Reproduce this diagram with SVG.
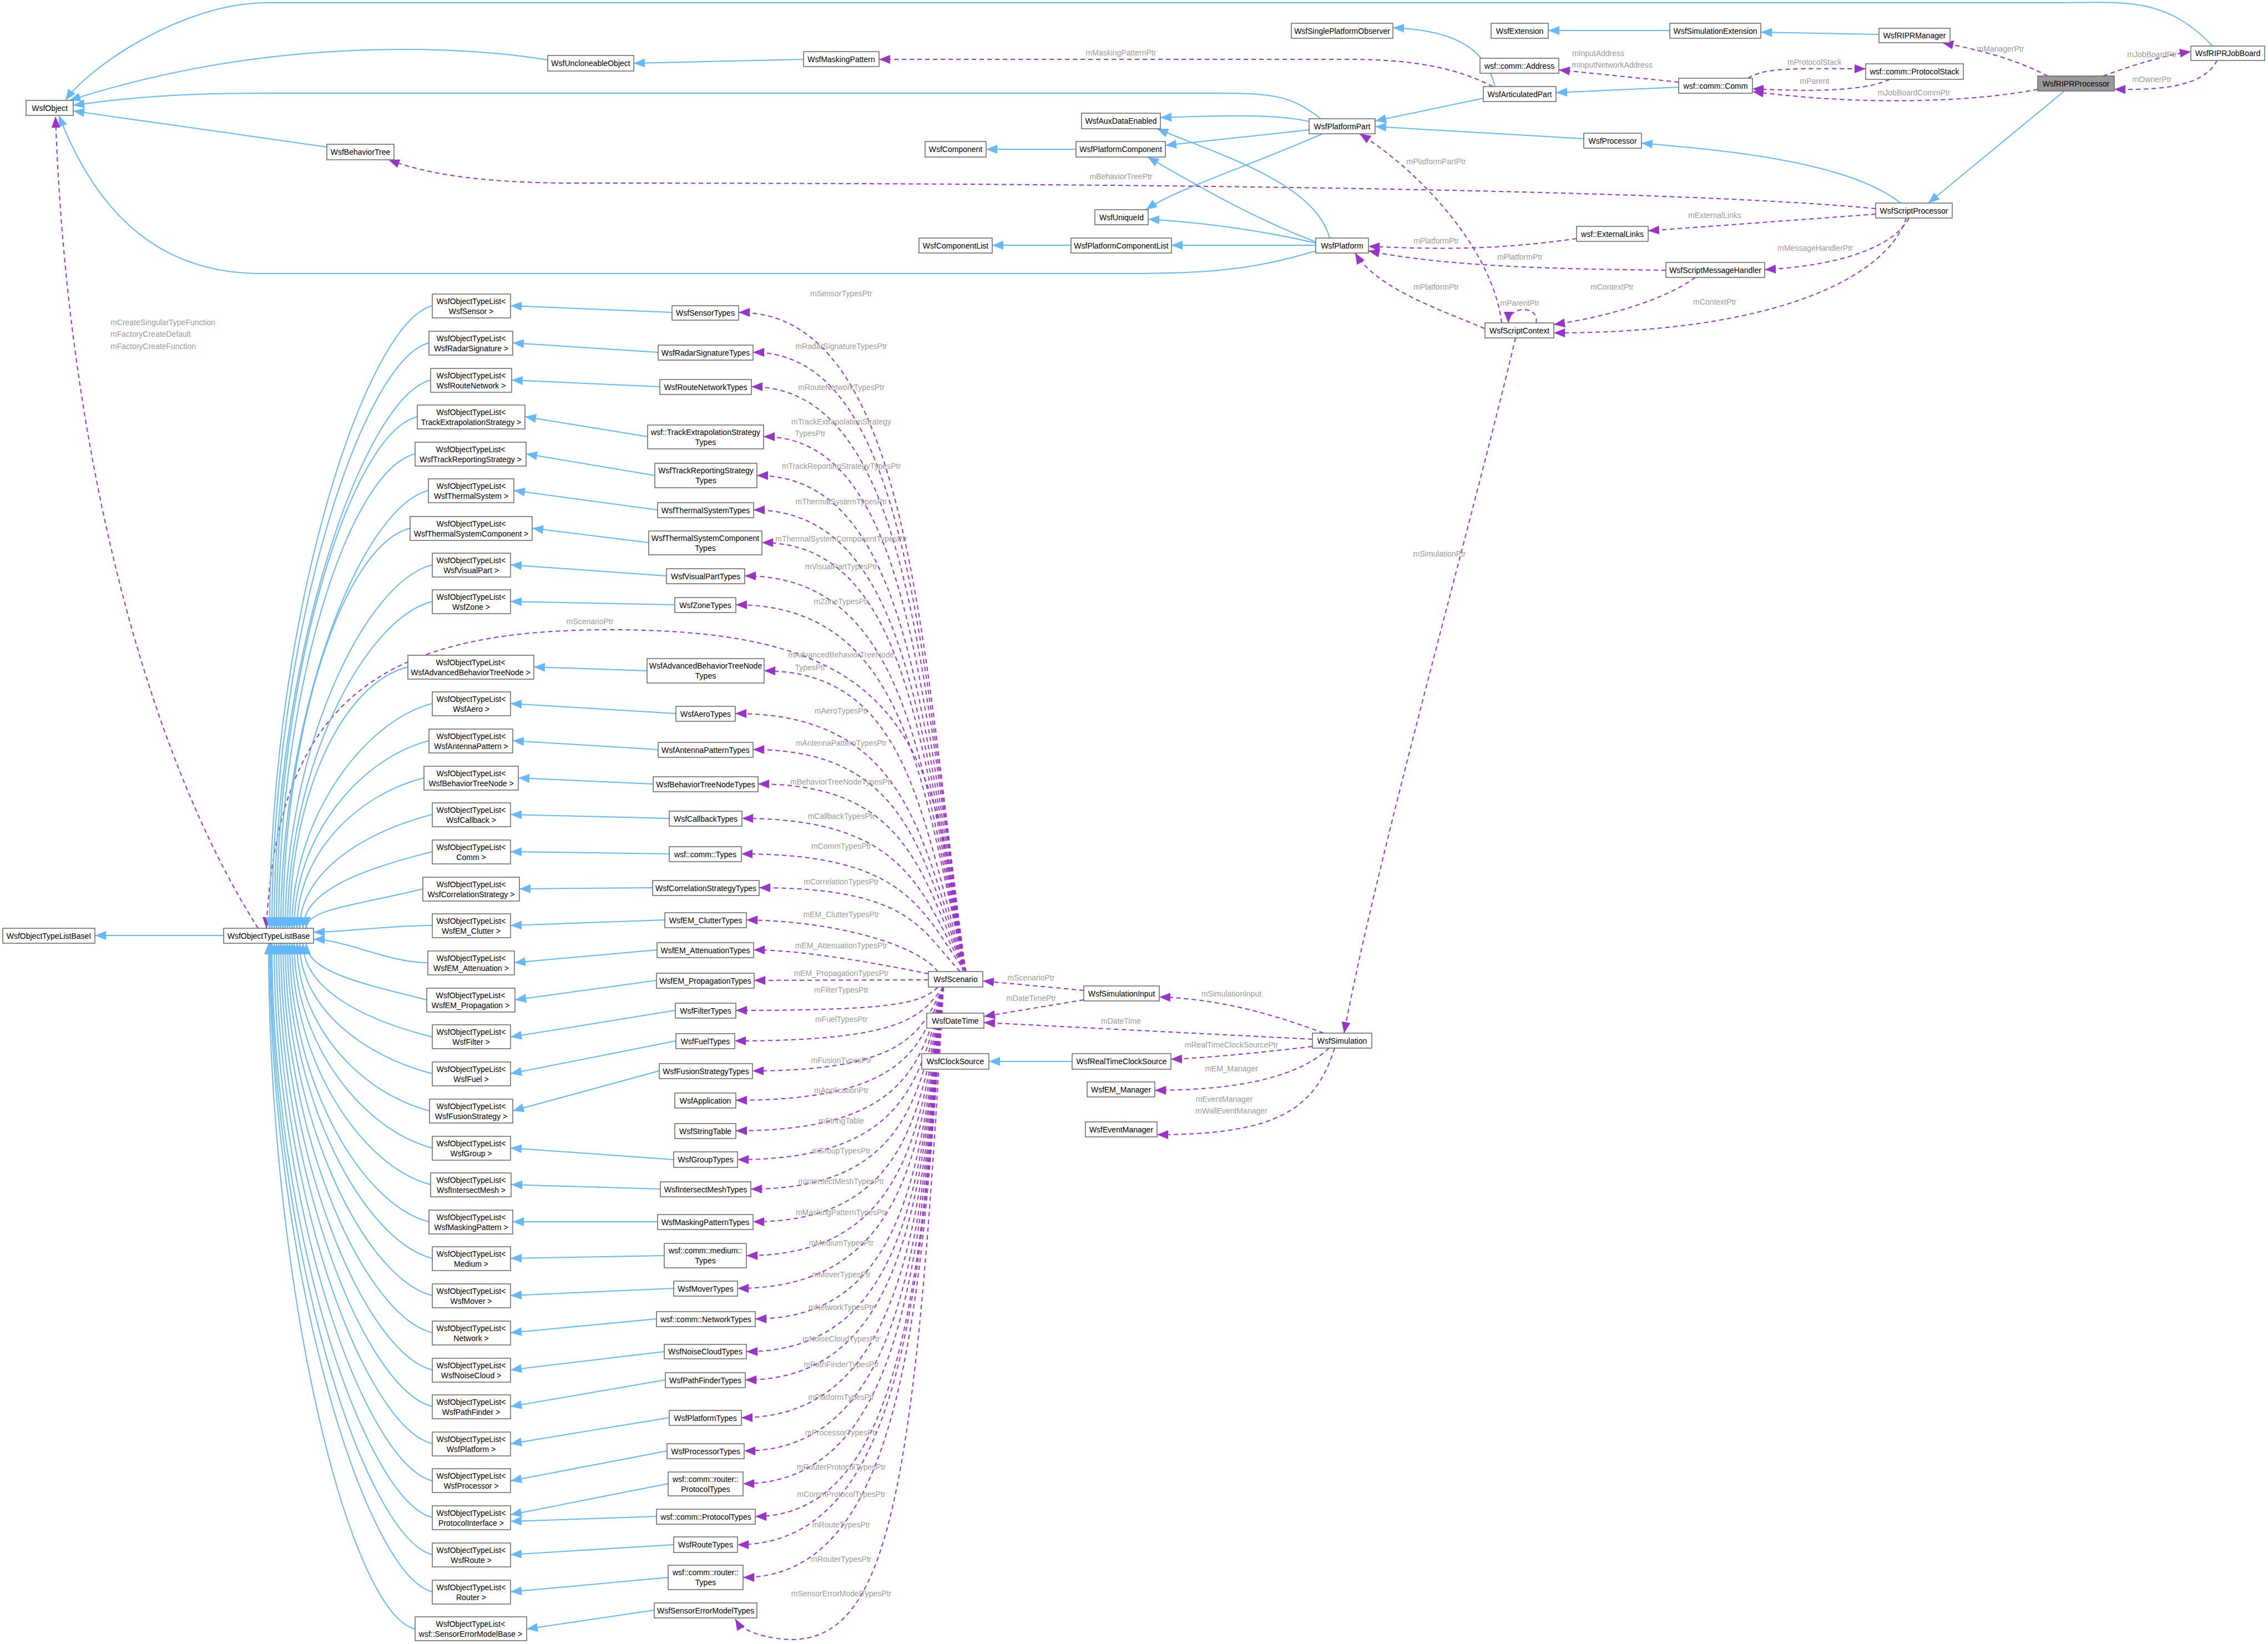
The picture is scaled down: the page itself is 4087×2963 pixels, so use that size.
<svg xmlns="http://www.w3.org/2000/svg" width="4087" height="2963" viewBox="0 0 4087 2963">
<style>
rect{fill:#fff;stroke:#666;stroke-width:1.5}
rect.focus{fill:#999}
text{font-family:"Liberation Sans",Arial,sans-serif;font-size:14px;fill:#000;text-anchor:middle}
text.l{fill:#9a9a9a}
path.b{fill:none;stroke:#63b8ff;stroke-width:2;marker-end:url(#bA)}
path.d{fill:none;stroke:#9a32cd;stroke-width:2;stroke-dasharray:8,6;marker-end:url(#pA)}
</style>
<defs>
<marker id="bA" viewBox="0 0 10 8" refX="10" refY="4" markerWidth="20" markerHeight="16" markerUnits="userSpaceOnUse" orient="auto"><path d="M0,0 L10,4 L0,8 z" fill="#63b8ff"/></marker>
<marker id="pA" viewBox="0 0 10 8" refX="10" refY="4" markerWidth="20" markerHeight="16" markerUnits="userSpaceOnUse" orient="auto"><path d="M0,0 L10,4 L0,8 z" fill="#9a32cd"/></marker>
</defs>
<rect x="0" y="0" width="4087" height="2963" style="fill:#fff;stroke:none"/>
<g id="connectors">
<!-- top area -->
<path class="b" d="M3987,83 C3900,-10 3820,5 3700,5 L480,5 C330,5 160,120 118,181"/>
<path class="b" d="M2380,214 C2330,175 2300,168 2200,168 L470,168 C300,168 200,180 132,190"/>
<path class="b" d="M2371,452 C2250,490 2150,493 2030,493 L470,493 C300,493 180,400 106,208"/>
<path class="b" d="M987,108 C850,85 500,60 125,181"/>
<path class="b" d="M1448,107 L1142,114"/>
<path class="b" d="M589,265 L132,200"/>
<path class="d" d="M2690,156 C2620,120 2540,107 2430,107 L1584,107"/>
<path class="b" d="M2694,156 C2680,100 2640,55 2510,50"/>
<path class="b" d="M2673,177 L2478,218"/>
<path class="b" d="M3025,157 L2804,167"/>
<path class="d" d="M3025,148 L2809,126"/>
<path class="d" d="M3150,141 C3180,120 3250,124 3362,124"/>
<path class="d" d="M3405,143 C3360,165 3260,165 3158,160"/>
<path class="d" d="M3672,161 C3550,185 3350,190 3158,165"/>
<path class="d" d="M3690,137 C3620,100 3540,85 3500,77"/>
<path class="d" d="M3790,137 C3850,115 3900,100 3948,93"/>
<path class="d" d="M3995,109 C3970,160 3880,162 3810,161"/>
<path class="b" d="M3720,164 L3475,366"/>
<path class="b" d="M3386,62 L3173,58"/>
<path class="b" d="M3009,55 L2790,55"/>
<path class="b" d="M2854,250 L2478,228"/>
<path class="b" d="M3425,366 C3330,290 3100,270 2958,258"/>
<path class="b" d="M2359,219 C2300,205 2200,208 2091,212"/>
<path class="b" d="M2359,234 L2100,262"/>
<path class="b" d="M2383,241 C2250,300 2120,340 2065,378"/>
<path class="b" d="M2396,429 C2370,330 2200,280 2085,232"/>
<path class="b" d="M2371,436 C2250,390 2150,330 2068,283"/>
<path class="b" d="M2371,438 C2250,410 2150,400 2069,395"/>
<path class="b" d="M2371,442 L2111,442"/>
<path class="b" d="M1930,442 L1788,442"/>
<path class="b" d="M1939,269 L1777,269"/>
<path class="d" d="M3380,376 C3000,340 2000,330 1040,330 C850,330 760,310 700,288"/>
<path class="d" d="M3380,386 L2970,416"/>
<path class="d" d="M3440,393 C3410,450 3300,480 3180,486"/>
<path class="d" d="M3435,393 C3400,500 3200,600 2800,600"/>
<path class="d" d="M2841,430 C2700,450 2600,450 2466,444"/>
<path class="d" d="M3002,487 C2800,485 2600,480 2466,452"/>
<path class="d" d="M3055,500 C3000,540 2900,570 2800,585"/>
<path class="d" d="M2675,592 C2600,560 2480,520 2442,456"/>
<path class="d" d="M2706,582 C2690,450 2560,310 2450,241"/>
<path class="d" d="M2768,582 C2775,550 2718,550 2718,582"/>
<path class="d" d="M2731,609 C2650,950 2480,1550 2422,1862"/>
<!-- simulation area -->
<path class="d" d="M1953,1785 L1771,1768"/>
<path class="d" d="M1953,1802 L1773,1832"/>
<path class="d" d="M2385,1862 C2300,1830 2200,1800 2089,1797"/>
<path class="d" d="M2365,1873 L1773,1843"/>
<path class="d" d="M2365,1886 C2250,1900 2150,1908 2110,1909"/>
<path class="d" d="M2395,1889 C2330,1950 2200,1965 2081,1965"/>
<path class="d" d="M2405,1889 C2370,2000 2300,2045 2085,2045"/>
<path class="b" d="M1932,1913 L1782,1913"/>
<!-- base -->
<path class="b" d="M403,1686 L171,1686"/>
<path class="d" d="M465,1673 C260,1350 120,800 100,210"/>
<path class="d" d="M1735,1751 C1690,1300 1600,1135 1100,1135 C700,1135 500,1250 480,1673"/>
<!-- left column to base -->
<path class="b" d="M779,551 C659,581 486,1112 486,1673"/>
<path class="b" d="M773,618 C653,648 490,1145 490,1673"/>
<path class="b" d="M776,685 C656,715 494,1179 494,1673"/>
<path class="b" d="M752,751 C632,781 498,1212 498,1673"/>
<path class="b" d="M748,818 C628,848 502,1246 502,1673"/>
<path class="b" d="M772,884 C652,914 506,1279 506,1673"/>
<path class="b" d="M739,952 C619,982 510,1313 510,1673"/>
<path class="b" d="M779,1018 C659,1048 514,1346 514,1673"/>
<path class="b" d="M779,1084 C659,1114 518,1379 518,1673"/>
<path class="b" d="M735,1202 C615,1232 522,1438 522,1673"/>
<path class="b" d="M779,1268 C659,1298 526,1471 526,1673"/>
<path class="b" d="M773,1335 C653,1365 530,1504 530,1673"/>
<path class="b" d="M764,1402 C644,1432 535,1538 535,1673"/>
<path class="b" d="M779,1468 C659,1498 540,1571 540,1673"/>
<path class="b" d="M779,1535 C659,1565 546,1604 546,1673"/>
<path class="b" d="M762,1602 C642,1632 552,1638 552,1673"/>
<path class="b" d="M779,1668 C700,1668 620,1680 565,1680"/>
<path class="b" d="M771,1735 C700,1735 620,1693 565,1693"/>
<path class="b" d="M769,1802 C649,1772 552,1751 552,1700"/>
<path class="b" d="M779,1869 C659,1839 546,1784 546,1700"/>
<path class="b" d="M779,1935 C659,1905 540,1818 540,1700"/>
<path class="b" d="M774,2002 C654,1972 535,1851 535,1700"/>
<path class="b" d="M779,2069 C659,2039 530,1885 530,1700"/>
<path class="b" d="M776,2135 C656,2105 526,1918 526,1700"/>
<path class="b" d="M773,2202 C653,2172 522,1951 522,1700"/>
<path class="b" d="M779,2268 C659,2238 518,1984 518,1700"/>
<path class="b" d="M779,2335 C659,2305 514,2018 514,1700"/>
<path class="b" d="M779,2402 C659,2372 510,2051 510,1700"/>
<path class="b" d="M779,2469 C659,2439 506,2085 506,1700"/>
<path class="b" d="M779,2535 C659,2505 502,2118 502,1700"/>
<path class="b" d="M779,2602 C659,2572 498,2151 498,1700"/>
<path class="b" d="M779,2669 C659,2639 494,2184 494,1700"/>
<path class="b" d="M779,2735 C659,2705 490,2218 490,1700"/>
<path class="b" d="M779,2802 C659,2772 488,2251 488,1700"/>
<path class="b" d="M779,2869 C659,2839 486,2285 486,1700"/>
<path class="b" d="M748,2936 C628,2906 484,2318 484,1700"/>
<!-- right column to left column -->
<path class="b" d="M1211,563 L920,551"/>
<path class="b" d="M1186,635 L924,618"/>
<path class="b" d="M1189,697 L922,685"/>
<path class="b" d="M1167,787 L946,751"/>
<path class="b" d="M1180,857 L948,818"/>
<path class="b" d="M1185,919 L926,884"/>
<path class="b" d="M1169,978 L959,952"/>
<path class="b" d="M1201,1038 L920,1018"/>
<path class="b" d="M1216,1090 L920,1084"/>
<path class="b" d="M1166,1209 L962,1202"/>
<path class="b" d="M1218,1286 L920,1268"/>
<path class="b" d="M1186,1351 L924,1335"/>
<path class="b" d="M1177,1413 L934,1402"/>
<path class="b" d="M1206,1475 L920,1468"/>
<path class="b" d="M1206,1539 L920,1535"/>
<path class="b" d="M1176,1600 L936,1602"/>
<path class="b" d="M1198,1658 L920,1668"/>
<path class="b" d="M1184,1712 L927,1735"/>
<path class="b" d="M1183,1767 L928,1802"/>
<path class="b" d="M1217,1821 L920,1869"/>
<path class="b" d="M1218,1876 L920,1935"/>
<path class="b" d="M1188,1930 L924,2002"/>
<path class="b" d="M1214,2090 L920,2069"/>
<path class="b" d="M1190,2143 L921,2135"/>
<path class="b" d="M1185,2202 L924,2202"/>
<path class="b" d="M1197,2263 L920,2268"/>
<path class="b" d="M1214,2322 L920,2335"/>
<path class="b" d="M1183,2377 L920,2402"/>
<path class="b" d="M1197,2436 L920,2469"/>
<path class="b" d="M1199,2487 L920,2535"/>
<path class="b" d="M1206,2555 L920,2602"/>
<path class="b" d="M1202,2615 L920,2669"/>
<path class="b" d="M1204,2674 L920,2730"/>
<path class="b" d="M1183,2733 L920,2742"/>
<path class="b" d="M1214,2784 L920,2802"/>
<path class="b" d="M1204,2843 L920,2869"/>
<path class="b" d="M1179,2902 L949,2936"/>
<!-- scenario to right column -->
<path class="d" d="M1740,1751 C1660,1157 1640,563 1331,563"/>
<path class="d" d="M1740,1751 C1660,1193 1640,635 1357,635"/>
<path class="d" d="M1740,1751 C1660,1224 1640,697 1354,697"/>
<path class="d" d="M1740,1751 C1660,1269 1640,787 1376,787"/>
<path class="d" d="M1740,1751 C1660,1304 1640,857 1364,857"/>
<path class="d" d="M1740,1751 C1660,1335 1640,919 1358,919"/>
<path class="d" d="M1740,1751 C1660,1365 1640,978 1373,978"/>
<path class="d" d="M1740,1751 C1660,1395 1640,1038 1342,1038"/>
<path class="d" d="M1740,1751 C1660,1421 1640,1090 1326,1090"/>
<path class="d" d="M1740,1751 C1660,1480 1640,1209 1377,1209"/>
<path class="d" d="M1740,1751 C1660,1519 1640,1286 1325,1286"/>
<path class="d" d="M1740,1751 C1660,1551 1640,1351 1357,1351"/>
<path class="d" d="M1740,1751 C1660,1582 1640,1413 1366,1413"/>
<path class="d" d="M1740,1751 C1660,1613 1640,1475 1337,1475"/>
<path class="d" d="M1740,1751 C1660,1645 1640,1539 1336,1539"/>
<path class="d" d="M1730,1751 C1660,1676 1640,1600 1368,1600"/>
<path class="d" d="M1690,1751 C1650,1700 1500,1660 1345,1658"/>
<path class="d" d="M1673,1755 C1600,1740 1450,1712 1358,1712"/>
<path class="d" d="M1673,1766 L1359,1767"/>
<path class="d" d="M1690,1779 C1660,1810 1600,1821 1326,1821"/>
<path class="d" d="M1700,1779 C1660,1828 1640,1876 1324,1876"/>
<path class="d" d="M1700,1779 C1660,1855 1640,1930 1356,1930"/>
<path class="d" d="M1700,1779 C1660,1881 1640,1983 1326,1983"/>
<path class="d" d="M1700,1779 C1660,1909 1640,2038 1326,2038"/>
<path class="d" d="M1700,1779 C1660,1934 1640,2090 1329,2090"/>
<path class="d" d="M1700,1779 C1660,1961 1640,2143 1353,2143"/>
<path class="d" d="M1700,1779 C1660,1991 1640,2202 1357,2202"/>
<path class="d" d="M1700,1779 C1660,2021 1640,2263 1345,2263"/>
<path class="d" d="M1700,1779 C1660,2051 1640,2322 1329,2322"/>
<path class="d" d="M1700,1779 C1660,2078 1640,2377 1361,2377"/>
<path class="d" d="M1700,1779 C1660,2107 1640,2436 1345,2436"/>
<path class="d" d="M1700,1779 C1660,2133 1640,2487 1343,2487"/>
<path class="d" d="M1700,1779 C1660,2167 1640,2555 1336,2555"/>
<path class="d" d="M1700,1779 C1660,2197 1640,2615 1341,2615"/>
<path class="d" d="M1700,1779 C1660,2227 1640,2674 1339,2674"/>
<path class="d" d="M1700,1779 C1660,2256 1640,2733 1361,2733"/>
<path class="d" d="M1700,1779 C1660,2281 1640,2784 1329,2784"/>
<path class="d" d="M1700,1779 C1660,2311 1640,2843 1339,2843"/>
<path class="d" d="M1700,1779 C1650,2700 1600,2960 1420,2955 C1360,2950 1335,2935 1325,2918"/>
</g>
<g id="labels">
<text class="l" x="2020" y="100">mMaskingPatternPtr</text>
<text class="l" x="2880" y="101">mInputAddress</text>
<text class="l" x="2905" y="122">mInputNetworkAddress</text>
<text class="l" x="3270" y="117">mProtocolStack</text>
<text class="l" x="3270" y="151">mParent</text>
<text class="l" x="3449" y="172">mJobBoardCommPtr</text>
<text class="l" x="3605" y="93">mManagerPtr</text>
<text class="l" x="3878" y="103">mJobBoardPtr</text>
<text class="l" x="3878" y="148">mOwnerPtr</text>
<text class="l" x="2588" y="296">mPlatformPartPtr</text>
<text class="l" x="2020" y="323">mBehaviorTreePtr</text>
<text class="l" x="3090" y="393">mExternalLinks</text>
<text class="l" x="2588" y="439">mPlatformPtr</text>
<text class="l" x="2739" y="468">mPlatformPtr</text>
<text class="l" x="3271" y="452">mMessageHandlerPtr</text>
<text class="l" x="2588" y="522">mPlatformPtr</text>
<text class="l" x="2905" y="522">mContextPtr</text>
<text class="l" x="2739" y="551">mParentPtr</text>
<text class="l" x="3090" y="549">mContextPtr</text>
<text class="l" x="2594" y="1003">mSimulationPtr</text>
<text class="l" x="1858" y="1767">mScenarioPtr</text>
<text class="l" x="1858" y="1804">mDateTimePtr</text>
<text class="l" x="2219" y="1796">mSimulationInput</text>
<text class="l" x="2020" y="1845">mDateTime</text>
<text class="l" x="2219" y="1888">mRealTimeClockSourcePtr</text>
<text class="l" x="2219" y="1931">mEM_Manager</text>
<text class="l" x="2206" y="1986">mEventManager</text>
<text class="l" x="2219" y="2007">mWallEventManager</text>
<text class="l" x="199" y="586" style="text-anchor:start">mCreateSingularTypeFunction</text>
<text class="l" x="199" y="607" style="text-anchor:start">mFactoryCreateDefault</text>
<text class="l" x="199" y="629" style="text-anchor:start">mFactoryCreateFunction</text>
<text class="l" x="1063" y="1125">mScenarioPtr</text>
<text class="l" x="1516" y="534">mSensorTypesPtr</text>
<text class="l" x="1516" y="629">mRadarSignatureTypesPtr</text>
<text class="l" x="1516" y="703">mRouteNetworkTypesPtr</text>
<text class="l" x="1516" y="765">mTrackExtrapolationStrategy</text>
<text class="l" x="1460" y="786">TypesPtr</text>
<text class="l" x="1516" y="845">mTrackReportingStrategyTypesPtr</text>
<text class="l" x="1516" y="909">mThermalSystemTypesPtr</text>
<text class="l" x="1516" y="976">mThermalSystemComponentTypesPtr</text>
<text class="l" x="1516" y="1026">mVisualPartTypesPtr</text>
<text class="l" x="1516" y="1089">mZoneTypesPtr</text>
<text class="l" x="1516" y="1185">mAdvancedBehaviorTreeNode</text>
<text class="l" x="1460" y="1208">TypesPtr</text>
<text class="l" x="1516" y="1286">mAeroTypesPtr</text>
<text class="l" x="1516" y="1344">mAntennaPatternTypesPtr</text>
<text class="l" x="1516" y="1414">mBehaviorTreeNodeTypesPtr</text>
<text class="l" x="1516" y="1476">mCallbackTypesPtr</text>
<text class="l" x="1516" y="1530">mCommTypesPtr</text>
<text class="l" x="1516" y="1594">mCorrelationTypesPtr</text>
<text class="l" x="1516" y="1653">mEM_ClutterTypesPtr</text>
<text class="l" x="1516" y="1709">mEM_AttenuationTypesPtr</text>
<text class="l" x="1516" y="1759">mEM_PropagationTypesPtr</text>
<text class="l" x="1516" y="1789">mFilterTypesPtr</text>
<text class="l" x="1516" y="1842">mFuelTypesPtr</text>
<text class="l" x="1516" y="1916">mFusionTypesPtr</text>
<text class="l" x="1516" y="1970">mApplicationPtr</text>
<text class="l" x="1516" y="2025">mStringTable</text>
<text class="l" x="1516" y="2079">mGroupTypesPtr</text>
<text class="l" x="1516" y="2134">mIntersectMeshTypesPtr</text>
<text class="l" x="1516" y="2190">mMaskingPatternTypesPtr</text>
<text class="l" x="1516" y="2245">mMediumTypesPtr</text>
<text class="l" x="1516" y="2302">mMoverTypesPtr</text>
<text class="l" x="1516" y="2361">mNetworkTypesPtr</text>
<text class="l" x="1516" y="2418">mNoiseCloudTypesPtr</text>
<text class="l" x="1516" y="2464">mPathFinderTypesPtr</text>
<text class="l" x="1516" y="2523">mPlatformTypesPtr</text>
<text class="l" x="1516" y="2587">mProcessorTypesPtr</text>
<text class="l" x="1516" y="2649">mRouterProtocolTypesPtr</text>
<text class="l" x="1516" y="2698">mCommProtocolTypesPtr</text>
<text class="l" x="1516" y="2753">mRouteTypesPtr</text>
<text class="l" x="1516" y="2815">mRouterTypesPtr</text>
<text class="l" x="1516" y="2877">mSensorErrorModelTypesPtr</text>
</g>
<!-- top nodes -->
<g id="WsfObject"><rect x="47" y="181" width="85" height="27"/><text x="89.5" y="200">WsfObject</text></g>
<g id="WsfUncloneableObject"><rect x="987" y="100" width="155" height="28"/><text x="1064.5" y="119">WsfUncloneableObject</text></g>
<g id="WsfMaskingPattern"><rect x="1448" y="93" width="136" height="27"/><text x="1516" y="112">WsfMaskingPattern</text></g>
<g id="WsfBehaviorTree"><rect x="589" y="260" width="121" height="28"/><text x="649.5" y="279">WsfBehaviorTree</text></g>
<g id="WsfAuxDataEnabled"><rect x="1949" y="204" width="142" height="28"/><text x="2020" y="223">WsfAuxDataEnabled</text></g>
<g id="WsfComponent"><rect x="1667" y="255" width="110" height="28"/><text x="1722" y="274">WsfComponent</text></g>
<g id="WsfPlatformComponent"><rect x="1939" y="255" width="161" height="28"/><text x="2019.5" y="274">WsfPlatformComponent</text></g>
<g id="WsfUniqueId"><rect x="1973" y="378" width="96" height="27"/><text x="2021" y="397">WsfUniqueId</text></g>
<g id="WsfComponentList"><rect x="1656" y="429" width="132" height="27"/><text x="1722" y="448">WsfComponentList</text></g>
<g id="WsfPlatformComponentList"><rect x="1930" y="429" width="181" height="27"/><text x="2020.5" y="448">WsfPlatformComponentList</text></g>
<g id="WsfSinglePlatformObserver"><rect x="2327" y="42" width="183" height="27"/><text x="2418.5" y="61">WsfSinglePlatformObserver</text></g>
<g id="WsfExtension"><rect x="2687" y="42" width="103" height="27"/><text x="2738.5" y="61">WsfExtension</text></g>
<g id="WsfSimulationExtension"><rect x="3009" y="42" width="164" height="27"/><text x="3091" y="61">WsfSimulationExtension</text></g>
<g id="WsfRIPRManager"><rect x="3386" y="51" width="128" height="26"/><text x="3450" y="69">WsfRIPRManager</text></g>
<g id="wsf_comm_Address"><rect x="2667" y="105" width="142" height="27"/><text x="2738" y="124">wsf::comm::Address</text></g>
<g id="wsf_comm_ProtocolStack"><rect x="3362" y="115" width="176" height="28"/><text x="3450" y="134">wsf::comm::ProtocolStack</text></g>
<g id="wsf_comm_Comm"><rect x="3025" y="141" width="133" height="27"/><text x="3091.5" y="160">wsf::comm::Comm</text></g>
<g id="WsfArticulatedPart"><rect x="2673" y="156" width="131" height="27"/><text x="2738.5" y="175">WsfArticulatedPart</text></g>
<g id="WsfRIPRProcessor"><rect class="focus" x="3672" y="137" width="138" height="27"/><text x="3741" y="156">WsfRIPRProcessor</text></g>
<g id="WsfRIPRJobBoard"><rect x="3948" y="83" width="133" height="26"/><text x="4014.5" y="101">WsfRIPRJobBoard</text></g>
<g id="WsfPlatformPart"><rect x="2359" y="214" width="119" height="27"/><text x="2418.5" y="233">WsfPlatformPart</text></g>
<g id="WsfProcessor"><rect x="2854" y="240" width="104" height="27"/><text x="2906" y="259">WsfProcessor</text></g>
<g id="WsfScriptProcessor"><rect x="3380" y="366" width="138" height="27"/><text x="3449" y="385">WsfScriptProcessor</text></g>
<g id="wsf_ExternalLinks"><rect x="2841" y="408" width="129" height="27"/><text x="2905.5" y="427">wsf::ExternalLinks</text></g>
<g id="WsfPlatform"><rect x="2371" y="429" width="95" height="27"/><text x="2418.5" y="448">WsfPlatform</text></g>
<g id="WsfScriptMessageHandler"><rect x="3002" y="473" width="178" height="27"/><text x="3091" y="492">WsfScriptMessageHandler</text></g>
<g id="WsfScriptContext"><rect x="2676" y="582" width="124" height="27"/><text x="2738" y="601">WsfScriptContext</text></g>
<!-- bottom-right nodes -->
<g id="WsfScenario"><rect x="1673" y="1751" width="98" height="28"/><text x="1722" y="1770">WsfScenario</text></g>
<g id="WsfDateTime"><rect x="1670" y="1826" width="103" height="27"/><text x="1721.5" y="1845">WsfDateTime</text></g>
<g id="WsfClockSource"><rect x="1661" y="1899" width="121" height="28"/><text x="1721.5" y="1918">WsfClockSource</text></g>
<g id="WsfSimulationInput"><rect x="1953" y="1777" width="136" height="27"/><text x="2021" y="1796">WsfSimulationInput</text></g>
<g id="WsfSimulation"><rect x="2365" y="1862" width="107" height="27"/><text x="2418.5" y="1881">WsfSimulation</text></g>
<g id="WsfRealTimeClockSource"><rect x="1932" y="1899" width="178" height="28"/><text x="2021" y="1918">WsfRealTimeClockSource</text></g>
<g id="WsfEM_Manager"><rect x="1959" y="1950" width="122" height="27"/><text x="2020" y="1969">WsfEM_Manager</text></g>
<g id="WsfEventManager"><rect x="1956" y="2022" width="129" height="27"/><text x="2020.5" y="2041">WsfEventManager</text></g>
<g id="WsfObjectTypeListBaseI"><rect x="5" y="1673" width="166" height="27"/><text x="88" y="1692">WsfObjectTypeListBaseI</text></g>
<g id="WsfObjectTypeListBase"><rect x="403" y="1673" width="162" height="27"/><text x="484" y="1692">WsfObjectTypeListBase</text></g>
<!-- left column -->
<g id="L1"><rect x="779" y="530" width="141" height="43"/><text x="849" y="548">WsfObjectTypeList&lt;</text><text x="849" y="566">WsfSensor &gt;</text></g>
<g id="L2"><rect x="773" y="597" width="151" height="43"/><text x="849" y="615">WsfObjectTypeList&lt;</text><text x="849" y="633">WsfRadarSignature &gt;</text></g>
<g id="L3"><rect x="776" y="664" width="146" height="43"/><text x="849" y="682">WsfObjectTypeList&lt;</text><text x="849" y="700">WsfRouteNetwork &gt;</text></g>
<g id="L4"><rect x="752" y="730" width="194" height="43"/><text x="849" y="748">WsfObjectTypeList&lt;</text><text x="849" y="766">TrackExtrapolationStrategy &gt;</text></g>
<g id="L5"><rect x="748" y="797" width="200" height="43"/><text x="848" y="815">WsfObjectTypeList&lt;</text><text x="848" y="833">WsfTrackReportingStrategy &gt;</text></g>
<g id="L6"><rect x="772" y="863" width="154" height="43"/><text x="849" y="881">WsfObjectTypeList&lt;</text><text x="849" y="899">WsfThermalSystem &gt;</text></g>
<g id="L7"><rect x="739" y="931" width="220" height="43"/><text x="849" y="949">WsfObjectTypeList&lt;</text><text x="849" y="967">WsfThermalSystemComponent &gt;</text></g>
<g id="L8"><rect x="779" y="997" width="141" height="43"/><text x="849" y="1015">WsfObjectTypeList&lt;</text><text x="849" y="1033">WsfVisualPart &gt;</text></g>
<g id="L9"><rect x="779" y="1063" width="141" height="43"/><text x="849" y="1081">WsfObjectTypeList&lt;</text><text x="849" y="1099">WsfZone &gt;</text></g>
<g id="L10"><rect x="735" y="1181" width="227" height="43"/><text x="848" y="1199">WsfObjectTypeList&lt;</text><text x="848" y="1217">WsfAdvancedBehaviorTreeNode &gt;</text></g>
<g id="L11"><rect x="779" y="1247" width="141" height="43"/><text x="849" y="1265">WsfObjectTypeList&lt;</text><text x="849" y="1283">WsfAero &gt;</text></g>
<g id="L12"><rect x="773" y="1314" width="151" height="43"/><text x="849" y="1332">WsfObjectTypeList&lt;</text><text x="849" y="1350">WsfAntennaPattern &gt;</text></g>
<g id="L13"><rect x="764" y="1381" width="170" height="43"/><text x="849" y="1399">WsfObjectTypeList&lt;</text><text x="849" y="1417">WsfBehaviorTreeNode &gt;</text></g>
<g id="L14"><rect x="779" y="1447" width="141" height="43"/><text x="849" y="1465">WsfObjectTypeList&lt;</text><text x="849" y="1483">WsfCallback &gt;</text></g>
<g id="L15"><rect x="779" y="1514" width="141" height="43"/><text x="849" y="1532">WsfObjectTypeList&lt;</text><text x="849" y="1550">Comm &gt;</text></g>
<g id="L16"><rect x="762" y="1581" width="174" height="43"/><text x="849" y="1599">WsfObjectTypeList&lt;</text><text x="849" y="1617">WsfCorrelationStrategy &gt;</text></g>
<g id="L17"><rect x="779" y="1647" width="141" height="43"/><text x="849" y="1665">WsfObjectTypeList&lt;</text><text x="849" y="1683">WsfEM_Clutter &gt;</text></g>
<g id="L18"><rect x="771" y="1714" width="156" height="43"/><text x="849" y="1732">WsfObjectTypeList&lt;</text><text x="849" y="1750">WsfEM_Attenuation &gt;</text></g>
<g id="L19"><rect x="769" y="1781" width="159" height="43"/><text x="848" y="1799">WsfObjectTypeList&lt;</text><text x="848" y="1817">WsfEM_Propagation &gt;</text></g>
<g id="L20"><rect x="779" y="1847" width="141" height="43"/><text x="849" y="1865">WsfObjectTypeList&lt;</text><text x="849" y="1883">WsfFilter &gt;</text></g>
<g id="L21"><rect x="779" y="1914" width="141" height="43"/><text x="849" y="1932">WsfObjectTypeList&lt;</text><text x="849" y="1950">WsfFuel &gt;</text></g>
<g id="L22"><rect x="774" y="1981" width="150" height="43"/><text x="849" y="1999">WsfObjectTypeList&lt;</text><text x="849" y="2017">WsfFusionStrategy &gt;</text></g>
<g id="L23"><rect x="779" y="2048" width="141" height="43"/><text x="849" y="2066">WsfObjectTypeList&lt;</text><text x="849" y="2084">WsfGroup &gt;</text></g>
<g id="L24"><rect x="776" y="2114" width="145" height="43"/><text x="849" y="2132">WsfObjectTypeList&lt;</text><text x="849" y="2150">WsfIntersectMesh &gt;</text></g>
<g id="L25"><rect x="773" y="2181" width="151" height="43"/><text x="849" y="2199">WsfObjectTypeList&lt;</text><text x="849" y="2217">WsfMaskingPattern &gt;</text></g>
<g id="L26"><rect x="779" y="2247" width="141" height="43"/><text x="849" y="2265">WsfObjectTypeList&lt;</text><text x="849" y="2283">Medium &gt;</text></g>
<g id="L27"><rect x="779" y="2314" width="141" height="43"/><text x="849" y="2332">WsfObjectTypeList&lt;</text><text x="849" y="2350">WsfMover &gt;</text></g>
<g id="L28"><rect x="779" y="2381" width="141" height="43"/><text x="849" y="2399">WsfObjectTypeList&lt;</text><text x="849" y="2417">Network &gt;</text></g>
<g id="L29"><rect x="779" y="2448" width="141" height="43"/><text x="849" y="2466">WsfObjectTypeList&lt;</text><text x="849" y="2484">WsfNoiseCloud &gt;</text></g>
<g id="L30"><rect x="779" y="2514" width="141" height="43"/><text x="849" y="2532">WsfObjectTypeList&lt;</text><text x="849" y="2550">WsfPathFinder &gt;</text></g>
<g id="L31"><rect x="779" y="2581" width="141" height="43"/><text x="849" y="2599">WsfObjectTypeList&lt;</text><text x="849" y="2617">WsfPlatform &gt;</text></g>
<g id="L32"><rect x="779" y="2647" width="141" height="43"/><text x="849" y="2665">WsfObjectTypeList&lt;</text><text x="849" y="2683">WsfProcessor &gt;</text></g>
<g id="L33"><rect x="779" y="2714" width="141" height="43"/><text x="849" y="2732">WsfObjectTypeList&lt;</text><text x="849" y="2750">ProtocolInterface &gt;</text></g>
<g id="L34"><rect x="779" y="2781" width="141" height="43"/><text x="849" y="2799">WsfObjectTypeList&lt;</text><text x="849" y="2817">WsfRoute &gt;</text></g>
<g id="L35"><rect x="779" y="2848" width="141" height="43"/><text x="849" y="2866">WsfObjectTypeList&lt;</text><text x="849" y="2884">Router &gt;</text></g>
<g id="L36"><rect x="748" y="2914" width="201" height="43"/><text x="848" y="2932">WsfObjectTypeList&lt;</text><text x="848" y="2950">wsf::SensorErrorModelBase &gt;</text></g>
<!-- right column -->
<g id="WsfSensorTypes"><rect x="1211" y="551" width="120" height="26"/><text x="1271" y="569">WsfSensorTypes</text></g>
<g id="WsfRadarSignatureTypes"><rect x="1186" y="622" width="171" height="27"/><text x="1271.5" y="641">WsfRadarSignatureTypes</text></g>
<g id="WsfRouteNetworkTypes"><rect x="1189" y="684" width="165" height="27"/><text x="1271.5" y="703">WsfRouteNetworkTypes</text></g>
<g id="TrackExtrapolationStrategyTypes"><rect x="1167" y="766" width="209" height="43"/><text x="1271.5" y="784">wsf::TrackExtrapolationStrategy</text><text x="1271.5" y="802">Types</text></g>
<g id="WsfTrackReportingStrategyTypes"><rect x="1180" y="835" width="184" height="44"/><text x="1272" y="853">WsfTrackReportingStrategy</text><text x="1272" y="871">Types</text></g>
<g id="WsfThermalSystemTypes"><rect x="1185" y="906" width="173" height="27"/><text x="1271.5" y="925">WsfThermalSystemTypes</text></g>
<g id="WsfThermalSystemComponentTypes"><rect x="1169" y="957" width="204" height="43"/><text x="1271" y="975">WsfThermalSystemComponent</text><text x="1271" y="993">Types</text></g>
<g id="WsfVisualPartTypes"><rect x="1201" y="1025" width="141" height="27"/><text x="1271.5" y="1044">WsfVisualPartTypes</text></g>
<g id="WsfZoneTypes"><rect x="1216" y="1077" width="110" height="27"/><text x="1271" y="1096">WsfZoneTypes</text></g>
<g id="WsfAdvancedBehaviorTreeNodeTypes"><rect x="1166" y="1187" width="211" height="44"/><text x="1271.5" y="1205">WsfAdvancedBehaviorTreeNode</text><text x="1271.5" y="1223">Types</text></g>
<g id="WsfAeroTypes"><rect x="1218" y="1273" width="107" height="27"/><text x="1271.5" y="1292">WsfAeroTypes</text></g>
<g id="WsfAntennaPatternTypes"><rect x="1186" y="1338" width="171" height="27"/><text x="1271.5" y="1357">WsfAntennaPatternTypes</text></g>
<g id="WsfBehaviorTreeNodeTypes"><rect x="1177" y="1400" width="189" height="27"/><text x="1271.5" y="1419">WsfBehaviorTreeNodeTypes</text></g>
<g id="WsfCallbackTypes"><rect x="1206" y="1462" width="131" height="27"/><text x="1271.5" y="1481">WsfCallbackTypes</text></g>
<g id="wsf_comm_Types"><rect x="1206" y="1526" width="130" height="27"/><text x="1271" y="1545">wsf::comm::Types</text></g>
<g id="WsfCorrelationStrategyTypes"><rect x="1176" y="1587" width="192" height="27"/><text x="1272" y="1606">WsfCorrelationStrategyTypes</text></g>
<g id="WsfEM_ClutterTypes"><rect x="1198" y="1645" width="147" height="27"/><text x="1271.5" y="1664">WsfEM_ClutterTypes</text></g>
<g id="WsfEM_AttenuationTypes"><rect x="1184" y="1699" width="174" height="27"/><text x="1271" y="1718">WsfEM_AttenuationTypes</text></g>
<g id="WsfEM_PropagationTypes"><rect x="1183" y="1754" width="176" height="27"/><text x="1271" y="1773">WsfEM_PropagationTypes</text></g>
<g id="WsfFilterTypes"><rect x="1217" y="1808" width="109" height="27"/><text x="1271.5" y="1827">WsfFilterTypes</text></g>
<g id="WsfFuelTypes"><rect x="1218" y="1863" width="106" height="27"/><text x="1271" y="1882">WsfFuelTypes</text></g>
<g id="WsfFusionStrategyTypes"><rect x="1188" y="1917" width="168" height="27"/><text x="1272" y="1936">WsfFusionStrategyTypes</text></g>
<g id="WsfApplication"><rect x="1216" y="1970" width="110" height="27"/><text x="1271" y="1989">WsfApplication</text></g>
<g id="WsfStringTable"><rect x="1216" y="2025" width="110" height="27"/><text x="1271" y="2044">WsfStringTable</text></g>
<g id="WsfGroupTypes"><rect x="1214" y="2076" width="115" height="28"/><text x="1271.5" y="2095">WsfGroupTypes</text></g>
<g id="WsfIntersectMeshTypes"><rect x="1190" y="2130" width="163" height="27"/><text x="1271.5" y="2149">WsfIntersectMeshTypes</text></g>
<g id="WsfMaskingPatternTypes"><rect x="1185" y="2189" width="172" height="27"/><text x="1271" y="2208">WsfMaskingPatternTypes</text></g>
<g id="wsf_comm_medium_Types"><rect x="1197" y="2241" width="148" height="44"/><text x="1271" y="2259">wsf::comm::medium::</text><text x="1271" y="2277">Types</text></g>
<g id="WsfMoverTypes"><rect x="1214" y="2309" width="115" height="27"/><text x="1271.5" y="2328">WsfMoverTypes</text></g>
<g id="wsf_comm_NetworkTypes"><rect x="1183" y="2364" width="178" height="27"/><text x="1272" y="2383">wsf::comm::NetworkTypes</text></g>
<g id="WsfNoiseCloudTypes"><rect x="1197" y="2423" width="148" height="26"/><text x="1271" y="2441">WsfNoiseCloudTypes</text></g>
<g id="WsfPathFinderTypes"><rect x="1199" y="2474" width="144" height="27"/><text x="1271" y="2493">WsfPathFinderTypes</text></g>
<g id="WsfPlatformTypes"><rect x="1206" y="2542" width="130" height="27"/><text x="1271" y="2561">WsfPlatformTypes</text></g>
<g id="WsfProcessorTypes"><rect x="1202" y="2602" width="139" height="27"/><text x="1271.5" y="2621">WsfProcessorTypes</text></g>
<g id="wsf_comm_router_ProtocolTypes"><rect x="1204" y="2653" width="135" height="43"/><text x="1271.5" y="2671">wsf::comm::router::</text><text x="1271.5" y="2689">ProtocolTypes</text></g>
<g id="wsf_comm_ProtocolTypes"><rect x="1183" y="2720" width="178" height="27"/><text x="1272" y="2739">wsf::comm::ProtocolTypes</text></g>
<g id="WsfRouteTypes"><rect x="1214" y="2770" width="115" height="28"/><text x="1271.5" y="2789">WsfRouteTypes</text></g>
<g id="wsf_comm_router_Types"><rect x="1204" y="2821" width="135" height="44"/><text x="1271.5" y="2839">wsf::comm::router::</text><text x="1271.5" y="2857">Types</text></g>
<g id="WsfSensorErrorModelTypes"><rect x="1179" y="2889" width="185" height="27"/><text x="1271.5" y="2908">WsfSensorErrorModelTypes</text></g>
</svg>
